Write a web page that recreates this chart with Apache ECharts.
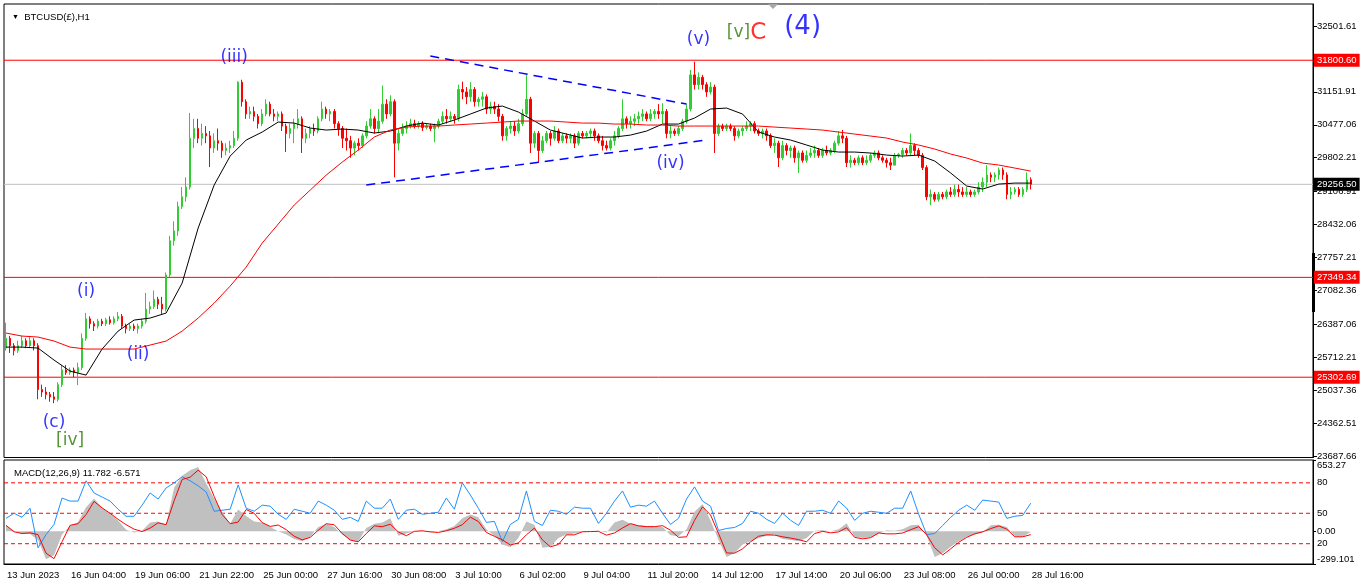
<!DOCTYPE html>
<html>
<head>
<meta charset="utf-8">
<script src="https://cdn.jsdelivr.net/npm/echarts@6/dist/echarts.min.js"></script>
<style>
html, body { margin: 0; padding: 0; background: #fff; }
#chart { width: 1366px; height: 588px; }
</style>
</head>
<body>
<div id="chart"></div>
<script>
// time axis: one slot = 4 hourly bars, labels every 16 slots
const slotCount = 327;
const labelEvery = 16;
const dateLabels = [
    '13 Jun 2023', '16 Jun 04:00', '19 Jun 06:00', '21 Jun 22:00', '25 Jun 00:00',
    '27 Jun 16:00', '30 Jun 08:00', '3 Jul 10:00', '6 Jul 02:00', '9 Jul 04:00',
    '11 Jul 20:00', '14 Jul 12:00', '17 Jul 14:00', '20 Jul 06:00', '23 Jul 08:00',
    '26 Jul 00:00', '28 Jul 16:00'
];

// [open, close, low, high]
const candles = [
    [25900,26100,25850,26420],[26100,25950,25800,26150],[25950,25850,25750,26000],[25850,25950,25800,26050],
    [25950,26050,25900,26150],[26050,25950,25900,26100],[25950,26050,25900,26150],[26050,25950,25850,26100],
    [25950,25050,24850,26000],[25050,25000,24900,25150],[25000,24950,24850,25100],[24950,24900,24800,25000],
    [24900,24850,24770,25000],[24850,25150,24800,25200],[25150,25450,25100,25550],[25450,25400,25350,25550],
    [25400,25450,25350,25500],[25450,25400,25300,25500],[25400,25500,25140,25600],[25500,26100,25450,26200],
    [26100,26500,26050,26620],[26500,26400,26300,26550],[26400,26350,26250,26450],[26350,26450,26300,26500],
    [26450,26400,26350,26500],[26400,26480,26350,26520],[26480,26420,26380,26550],[26420,26500,26380,26550],
    [26500,26550,26450,26640],[26550,26350,26300,26600],[26350,26300,26200,26400],[26300,26350,26250,26400],
    [26350,26300,26250,26400],[26300,26350,26200,26400],[26350,26450,26300,26500],[26450,26700,26400,27030],
    [26700,26750,26600,26850],[26750,26900,26700,27080],[26900,26800,26700,26950],[26800,26700,26600,26950],
    [26700,27400,26650,27450],[27400,28100,27350,28200],[28100,28300,28000,28500],[28300,28800,28200,28900],
    [28800,29000,28750,29200],[29000,29200,28900,29400],[29200,30200,29150,30720],[30200,30400,30000,30600],
    [30400,30200,30100,30600],[30200,30300,30050,30500],[30300,30250,30100,30450],[30250,30000,29610,30350],
    [30000,30150,29900,30300],[30150,30100,29950,30400],[30100,29950,29800,30150],[29950,30000,29850,30100],
    [30000,30050,29900,30150],[30050,30200,30000,30350],[30200,31350,30150,31370],[31350,30950,30850,31400],
    [30950,30700,30600,31000],[30700,30750,30600,30850],[30750,30650,30550,30850],[30650,30500,30400,30700],
    [30500,30700,30450,30800],[30700,30900,30650,31000],[30900,30700,30650,30950],[30700,30650,30550,30800],
    [30650,30700,30550,30750],[30700,30450,30350,30750],[30450,30300,29920,30500],[30300,30400,30200,30500],
    [30400,30500,30100,30600],[30500,30600,30400,30800],[30600,30200,29900,30650],[30200,30300,30100,30400],
    [30300,30400,30200,30450],[30400,30350,30250,30500],[30350,30600,30300,30650],[30600,30800,30550,30950],
    [30800,30700,30600,30850],[30700,30750,30550,30800],[30750,30500,30400,30800],[30500,30400,30250,30550],
    [30400,30200,30000,30450],[30200,30150,29950,30400],[30150,30000,29800,30250],[30000,30100,29850,30150],
    [30100,30050,29950,30200],[30050,30250,30000,30300],[30250,30450,30200,30550],[30450,30600,30400,30800],
    [30600,30400,30300,30650],[30400,30550,30300,30800],[30550,30900,30500,31280],[30900,30700,30600,31000],
    [30700,30950,30650,31080],[30950,30100,29400,31000],[30100,30300,29950,30400],[30300,30400,30250,30500],
    [30400,30450,30300,30550],[30450,30500,30400,30600],[30500,30450,30400,30580],[30450,30500,30400,30550],
    [30500,30420,30350,30550],[30420,30450,30380,30500],[30450,30400,30350,30500],[30400,30450,30120,30500],
    [30450,30550,30400,30600],[30550,30650,30500,30750],[30650,30600,30500,30800],[30600,30650,30550,30750],
    [30650,30600,30500,30700],[30600,31200,30550,31300],[31200,31150,31000,31360],[31150,31050,30900,31250],
    [31050,31200,30950,31350],[31200,30950,30850,31250],[30950,31000,30850,31050],[31000,31050,30850,31150],
    [31050,30800,30700,31100],[30800,30850,30700,30950],[30850,30800,30700,30950],[30800,30650,30550,30900],
    [30650,30250,30150,30700],[30250,30400,30150,30450],[30400,30450,30300,30550],[30450,30350,30250,30550],
    [30350,30500,30300,30600],[30500,30700,30450,30800],[30700,31000,30650,31500],[31000,30100,29900,31050],
    [30100,30300,30000,30350],[30300,29950,29700,30350],[29950,30150,29900,30250],[30150,30300,30100,30350],
    [30300,30200,30050,30350],[30200,30350,30150,30450],[30350,30150,30100,30400],[30150,30250,30100,30300],
    [30250,30200,30100,30300],[30200,30250,30100,30300],[30250,30100,30000,30300],[30100,30300,30050,30350],
    [30300,30250,30200,30350],[30250,30300,30200,30350],[30300,30350,30200,30400],[30350,30250,30150,30400],
    [30250,30150,30100,30300],[30150,30050,29950,30250],[30050,30000,29950,30150],[30000,30150,29950,30200],
    [30150,30250,30050,30350],[30250,30400,30200,30450],[30400,30600,30350,31000],[30600,30500,30400,30650],
    [30500,30550,30400,30650],[30550,30600,30450,30700],[30600,30650,30500,30750],[30650,30700,30550,30800],
    [30700,30600,30550,30750],[30600,30700,30550,30800],[30700,30750,30600,30800],[30750,30700,30600,30900],
    [30700,30750,30500,30920],[30750,30300,30200,30800],[30300,30350,30200,30450],[30350,30300,30250,30400],
    [30300,30400,30250,30450],[30400,30550,30350,30600],[30550,30800,30500,30900],[30800,31500,30750,31600],
    [31500,31300,31200,31770],[31300,31450,31200,31550],[31450,31300,31200,31500],[31300,31150,31050,31350],
    [31150,31250,31100,31350],[31250,30300,29900,31300],[30300,30450,30250,30500],[30450,30400,30350,30500],
    [30400,30450,30350,30500],[30450,30400,30350,30500],[30400,30250,30150,30450],[30250,30350,30200,30400],
    [30350,30400,30250,30450],[30400,30450,30350,30550],[30450,30500,30350,30550],[30500,30350,30300,30550],
    [30350,30300,30250,30400],[30300,30350,30200,30400],[30350,30250,30150,30400],[30250,30050,30000,30300],
    [30050,30100,29900,30200],[30100,29800,29610,30150],[29800,30050,29750,30150],[30050,29950,29850,30100],
    [29950,30000,29800,30050],[30000,29800,29700,30050],[29800,29900,29490,29950],[29900,29750,29700,29950],
    [29750,29850,29700,29950],[29850,29900,29800,30000],[29900,29950,29800,30050],[29950,29850,29800,30000],
    [29850,29950,29800,30000],[29950,29900,29850,30050],[29900,29950,29850,30000],[29950,30100,29900,30150],
    [30100,30250,30050,30350],[30250,30200,30100,30370],[30200,29700,29610,30250],[29700,29750,29600,29850],
    [29750,29700,29650,29800],[29700,29800,29650,29850],[29800,29700,29650,29850],[29700,29750,29650,29850],
    [29750,29850,29700,29900],[29850,29900,29800,29950],[29900,29800,29750,29950],[29800,29750,29700,29850],
    [29750,29700,29600,29800],[29700,29650,29550,29800],[29650,29850,29650,29900],[29850,29870,29800,29900],
    [29870,29950,29800,30000],[29950,29900,29850,30000],[29900,30050,29850,30300],[30050,29950,29850,30100],
    [29950,29850,29800,30000],[29850,29600,29550,29900],[29600,29000,28930,29650],[29000,29050,28830,29150],
    [29050,28950,28900,29100],[28950,29050,28900,29100],[29050,29000,28950,29100],[29000,29100,28950,29150],
    [29100,29050,29000,29200],[29050,29150,29000,29250],[29150,29100,29000,29250],[29100,29050,29000,29200],
    [29050,29100,29000,29200],[29100,29050,29000,29150],[29050,29100,29000,29150],[29100,29200,29050,29300],
    [29200,29300,29100,29400],[29300,29450,29200,29650],[29450,29400,29300,29500],[29400,29450,29300,29500],
    [29450,29550,29350,29600],[29550,29450,29350,29600],[29450,29050,28950,29500],[29050,29100,28950,29200],
    [29100,29150,29050,29200],[29150,29050,29000,29200],[29050,29150,29000,29200],[29150,29350,29100,29500],
    [29350,29256.5,29150,29400]
];

// moving averages, one value every 4 slots
const maStep = 4;
const maBlack = [
    25920, 25920, 25900, 25654, 25428, 25346, 25880, 26248, 26474, 26515,
    26618, 27232, 28360, 29242, 29836, 30164, 30328, 30533, 30512, 30410,
    30369, 30390, 30369, 30308, 30349, 30451, 30512, 30472, 30574, 30697,
    30820, 30861, 30738, 30554, 30369, 30287, 30205, 30226, 30226, 30266,
    30348, 30492, 30492, 30615, 30800, 30820, 30697, 30328, 30226, 30164,
    30062, 29959, 29918, 29918, 29898, 29856, 29836, 29856, 29734, 29488,
    29221, 29160, 29262, 29282, 29282
];
const maRed = [
    26208, 26146, 26126, 26044, 25920, 25880, 25880, 25880, 25880, 25962,
    26044, 26248, 26515, 26822, 27171, 27560, 28052, 28442, 28832, 29139,
    29446, 29713, 29959, 30226, 30369, 30430, 30451, 30451, 30472, 30492,
    30512, 30533, 30554, 30554, 30554, 30533, 30512, 30512, 30492, 30492,
    30472, 30472, 30451, 30451, 30451, 30451, 30451, 30451, 30430, 30410,
    30390, 30369, 30328, 30287, 30246, 30205, 30123, 30062, 29980, 29877,
    29795, 29692, 29652, 29590, 29528
];

// lower window, one value every 2 slots
const macdStep = 2;
const macdHist = [
    55, 5, -25, -25, -80, -255, -220, -30,
    50, 85, 220, 300, 215, 160, 100, 15,
    -10, 5, 80, 90, 60, 400, 510, 560,
    590, 440, 300, 180, 70, 200, 140, 90,
    80, 40, 0, -30, -70, -90, -50, 40,
    70, 40, -30, -80, -95, 30, 70, 80,
    120, -40, -20, 0, 5, -5, 0, 20,
    50, 120, 155, 130, 20, -40, -120, -145,
    -60, 90, 60, -150, -140, -60, -30, -20,
    -5, 0, 5, -10, 80, 105, 70, 55,
    50, 45, 40, -35, -45, 20, 180, 250,
    100, -80, -235, -200, -120, -90, -60, -40,
    -30, -70, -80, -90, -60, 5, 10, 0,
    20, 75, -50, -60, -55, -20, 10, 5,
    20, 55, 60, -40, -235, -200, -140, -90,
    -50, -30, -10, 55, 60, 40, -45, -50,
    -5
];
const macdSignal = [
    55, -4, -20, -14, -30, -200, -250, -96,
    55, 70, 154, 274, 215, 165, 110, 61,
    20, -2, 30, 78, 61, 280, 475, 496,
    560, 500, 320, 154, 70, 85, 200, 165,
    80, 45, 58, 15, -45, -78, -55, 10,
    70, 60, -20, -80, -96, -20, 50, 43,
    65, -5, -40, 0, 5, -5, -10, 5,
    28, 61, 130, 90, -10, -45, -78, -125,
    -106, -32, 30, -78, -142, -120, -32, -32,
    -4, -2, 0, -35, -15, 30, 71, 50,
    43, 43, 52, 10, -55, -50, 100, 225,
    150, -20, -198, -200, -160, -96, -45, -32,
    -35, -50, -62, -76, -96, -20, 0, -14,
    -5, 33, -55, -69, -58, -15, -23, -23,
    -15, 15, 43, -32, -150, -216, -160, -100,
    -55, -23, -4, 25, 50, 20, -50, -50,
    -30
];
const oscBlue = [
    45, 50, 46, 55, 16, 29, 39, 65,
    62, 62, 82, 70, 66, 62, 54, 47,
    47, 58, 70, 64, 75, 80, 86, 82,
    77, 71, 52, 53, 54, 78, 55, 52,
    58, 57, 49, 44, 54, 52, 50, 62,
    58, 53, 44, 46, 42, 62, 55, 55,
    64, 44, 53, 54, 49, 50, 51, 65,
    54, 80, 68, 55, 41, 42, 22, 39,
    44, 72, 42, 38, 53, 52, 49, 56,
    55, 55, 40, 50, 62, 72, 56, 58,
    57, 62, 50, 39, 45, 64, 76, 62,
    57, 33, 35, 36, 40, 52, 50, 44,
    40, 50, 43, 38, 52, 52, 53, 50,
    62, 55, 43, 50, 52, 51, 50, 55,
    55, 72, 49, 29, 30, 38, 46, 53,
    58, 53, 63, 62, 61, 45, 47, 48,
    60
];

const levels = [31800.60, 27349.34, 25302.69];
const bidPrice = 29256.50;
const priceTicks = [32501.61, 31151.91, 30477.06, 29802.21, 29106.91, 28432.06, 27757.21,
    27082.36, 26387.06, 25712.21, 25037.36, 24362.51, 23687.66];
const macdTicks = [-299.101, 0, 653.27];
const macdTickText = ['-299.101', '0.00', '653.27'];
const oscLevels = [20, 50, 80];

// triangle trendlines: [slot, price]
const trendUpper = [[106, 31886], [170, 30902]];
const trendLower = [[90, 29242], [175, 30164]];

// wave labels
const waveText  = ['(iii)', '(i)', '(ii)', '(c)', '[iv]', '(v)', '[v]C', '(4)', '(iv)'];
const waveSlot  = [57, 20, 33, 12, 16, 173, 185, 199, 166];
const wavePrice = [31845, 27048, 25757, 24383, 24014, 32214, 32357, 32480, 29672];
const waveColor = ['#0000ff', '#0000ff', '#0000ff', '#0000ff', '#2a7a00', '#0000ff', '#2a7a00', '#0000ff', '#0000ff'];
const waveSize  = [17, 17, 17, 17, 17, 17, 17, 26, 17];

const font = 'Liberation Sans';
const BLUE = '#0000ff';
const RED = '#ff0000';

function onSlots(values, step) {
    const out = new Array(slotCount).fill(null);
    values.forEach((v, k) => { out[k * step] = v; });
    return out;
}

const cats = [];
for (let i = 0; i < slotCount; i++) cats.push('s' + i);
const hasLabel = (i) => i % labelEvery === 0 && (i / labelEvery) < dateLabels.length;

const waveData = waveText.map((t, k) => ({
    value: [waveSlot[k], wavePrice[k]],
    label: {
        formatter: t === '[v]C' ? '{g|[v]}{r|C}' : t,
        color: waveColor[k],
        fontSize: waveSize[k]
    }
}));

// full-width horizontal line as its own series on a hidden 0..1 x axis
function hLine(name, value, color, xIdx, yIdx, dash, boxColor) {
    return {
        name: name, type: 'line', xAxisIndex: xIdx, yAxisIndex: yIdx,
        data: [[0, value], [1, value]], showSymbol: false, symbol: 'none', z: 2, silent: true,
        lineStyle: { color: color, width: 1, type: dash || 'solid' },
        endLabel: boxColor ? {
            show: true, formatter: () => value.toFixed(2), distance: 1,
            backgroundColor: boxColor, color: '#fff', fontSize: 9.5, padding: [2, 3, 1, 3], fontFamily: font
        } : { show: false }
    };
}

const levelSeries = levels.map((v, k) => hLine('level' + k, v, RED, 2, 0, null, RED));
levelSeries.push(hLine('bid', bidPrice, '#c0c0c0', 2, 0, null, '#000000'));
const oscLevelSeries = oscLevels.map((v, k) => hLine('osc' + k, v, RED, 3, 2, [4, 3], null));

const trendLines = [trendUpper, trendLower].map(t => [
    { coord: t[0] },
    { coord: t[1] }
]);

const chart = echarts.init(document.getElementById('chart'));
chart.setOption({
    animation: false,
    backgroundColor: '#ffffff',
    textStyle: { fontFamily: font },
    title: [
        {
            text: '{t|▼}  BTCUSD(£),H1',
            left: 7, top: 7,
            textStyle: { fontSize: 9.5, fontWeight: 'normal', color: '#000', fontFamily: font,
                rich: { t: { fontSize: 7, color: '#000' } } }
        },
        {
            text: 'MACD(12,26,9) 11.782 -6.571',
            left: 9, top: 463,
            textStyle: { fontSize: 9.5, fontWeight: 'normal', color: '#000', fontFamily: font }
        }
    ],
    grid: [
        { left: 4, right: 53, top: 4, height: 453.5, show: true, borderColor: '#000', borderWidth: 1, backgroundColor: '#fff' },
        { left: 4, right: 53, top: 460, height: 104, show: true, borderColor: '#000', borderWidth: 1, backgroundColor: '#fff' }
    ],
    xAxis: [
        { type: 'category', gridIndex: 0, data: cats, boundaryGap: true, show: false },
        {
            type: 'category', gridIndex: 1, data: cats, boundaryGap: true, position: 'bottom',
            axisLine: { onZero: false, lineStyle: { color: '#000' } },
            axisTick: { alignWithLabel: true, length: 5, interval: (i) => hasLabel(i), lineStyle: { color: '#000' } },
            axisLabel: {
                interval: (i) => hasLabel(i),
                formatter: (v, i) => hasLabel(i) ? dateLabels[i / labelEvery] : '',
                align: 'left', color: '#000', fontSize: 9.5, margin: 6, padding: [0, 0, 0, 1]
            },
            splitLine: { show: false }
        },
        { type: 'value', gridIndex: 0, min: 0, max: 1, show: false, axisLine: { onZero: false } },
        { type: 'value', gridIndex: 1, min: 0, max: 1, show: false, axisLine: { onZero: false } }
    ],
    yAxis: [
        {
            type: 'value', gridIndex: 0, position: 'right', min: 23657, max: 32953, scale: true,
            axisLine: { show: true, onZero: false, lineStyle: { color: '#000' } },
            axisTick: { show: true, length: 4, customValues: priceTicks, lineStyle: { color: '#000' } },
            axisLabel: { customValues: priceTicks, formatter: v => v.toFixed(2), color: '#000', fontSize: 9.5, margin: 4 },
            splitLine: { show: false }
        },
        {
            type: 'value', gridIndex: 1, position: 'right', min: -299.101, max: 653.27,
            axisLine: { show: true, onZero: false, lineStyle: { color: '#000' } },
            axisTick: { show: true, length: 3, customValues: macdTicks, lineStyle: { color: '#000' } },
            axisLabel: {
                customValues: macdTicks,
                formatter: v => macdTickText[macdTicks.findIndex(t => Math.abs(t - v) < 1e-6)] || '',
                color: '#000', fontSize: 9.5, margin: 4,
                verticalAlignMaxLabel: 'top', verticalAlignMinLabel: 'bottom'
            },
            splitLine: { show: false }
        },
        {
            type: 'value', gridIndex: 1, position: 'right', min: 0, max: 102.5,
            axisLine: { show: false, onZero: false },
            axisTick: { show: false },
            axisLabel: { customValues: oscLevels, color: '#000', fontSize: 9.5, margin: 4 },
            splitLine: { show: false }
        }
    ],
    graphic: [
        { type: 'rect', shape: { x: 1312, y: 253, width: 3, height: 59 }, style: { fill: '#000' } },
        { type: 'polygon', shape: { points: [[768, 4], [778, 4], [773, 9]] }, style: { fill: '#a8a8a8' } }
    ],
    series: [
        ...levelSeries,
        {
            name: 'BTCUSD', type: 'candlestick', xAxisIndex: 0, yAxisIndex: 0,
            data: candles, barWidth: 2, z: 3,
            itemStyle: { color: '#32cd32', color0: RED, borderColor: '#32cd32', borderColor0: RED, borderWidth: 1 },
            markLine: {
                silent: true, symbol: ['none', 'none'], animation: false,
                lineStyle: { color: BLUE, width: 1.5, type: [9, 6] },
                label: { show: false },
                data: trendLines
            }
        },
        {
            name: 'MA fast', type: 'line', xAxisIndex: 0, yAxisIndex: 0,
            data: onSlots(maBlack, maStep), connectNulls: true, showSymbol: false, z: 4,
            lineStyle: { color: '#000', width: 1 }
        },
        {
            name: 'MA slow', type: 'line', xAxisIndex: 0, yAxisIndex: 0,
            data: onSlots(maRed, maStep), connectNulls: true, showSymbol: false, z: 4,
            lineStyle: { color: RED, width: 1 }
        },
        {
            name: 'waves', type: 'scatter', xAxisIndex: 0, yAxisIndex: 0,
            symbolSize: 0, z: 6, data: waveData,
            label: {
                show: true, position: 'inside', fontFamily: 'DejaVu Sans',
                rich: {
                    g: { color: '#2a7a00', fontSize: 17, fontFamily: 'DejaVu Sans' },
                    r: { color: RED, fontSize: 23, fontFamily: 'DejaVu Sans' }
                }
            }
        },
        {
            name: 'MACD', type: 'line', xAxisIndex: 1, yAxisIndex: 1,
            data: onSlots(macdHist, macdStep), connectNulls: true, showSymbol: false,
            lineStyle: { width: 0 }, areaStyle: { color: '#c0c0c0', opacity: 1 }
        },
        ...oscLevelSeries,
        {
            name: 'Signal', type: 'line', xAxisIndex: 1, yAxisIndex: 1,
            data: onSlots(macdSignal, macdStep), connectNulls: true, showSymbol: false, z: 4,
            lineStyle: { color: RED, width: 1 }
        },
        {
            name: 'Osc', type: 'line', xAxisIndex: 1, yAxisIndex: 2,
            data: onSlots(oscBlue, macdStep), connectNulls: true, showSymbol: false, z: 3,
            lineStyle: { color: '#1e90ff', width: 1 }
        }
    ]
});
</script>
</body>
</html>
